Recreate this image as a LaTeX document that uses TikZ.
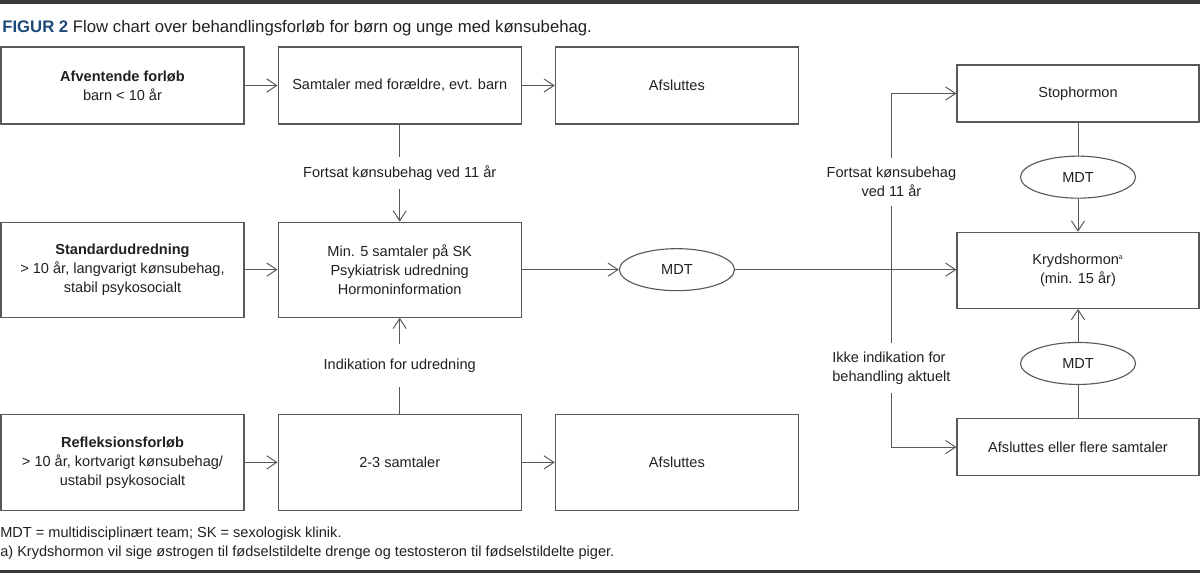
\documentclass[tikz,border=0pt]{standalone}
\usepackage{fontspec}
\setsansfont{Liberation Sans}
\usetikzlibrary{positioning,shapes.geometric,arrows.meta}
\definecolor{inkgray}{HTML}{231F20}
\definecolor{linegray}{HTML}{58595B}
\definecolor{rulegray}{HTML}{3A3A3A}
\definecolor{figblue}{HTML}{1E4A7A}

\begin{document}
\begin{tikzpicture}[
    x=0.025cm, y=-0.025cm,
    >={Straight Barb[length=0.25cm,width=0.33cm]},
    node distance=0.825cm,
    every node/.style={font=\sffamily\fontsize{10.35}{13.5}\selectfont, text=inkgray},
    stage/.style={
        draw=linegray,
        line width=0.8pt,
        minimum width=6.075cm,
        align=center,
        inner sep=0pt
    },
    board/.style={
        ellipse,
        draw=linegray,
        line width=0.8pt,
        minimum width=2.875cm,
        minimum height=1.05cm,
        inner sep=0pt
    },
    flow/.style={->, line width=0.7pt, linegray},
    link/.style={line width=0.7pt, linegray},
    cond/.style={
        fill=white,
        inner xsep=2pt,
        inner ysep=0.22cm,
        align=center
    }
]
\useasboundingbox (0,0) rectangle (1200,573);

% rules and caption
\fill[rulegray] (0,0) rectangle (1200,3.5);
\fill[rulegray] (0,569.5) rectangle (1200,573);
\node[anchor=base west, inner sep=0pt, font=\sffamily\fontsize{11.9}{14}\selectfont] (title) at (2,32)
    {\textcolor{figblue}{\bfseries FIGUR 2} Flow chart over behandlingsforløb for børn og unge med kønsubehag.};

% three entry rows
\node[stage, minimum height=1.925cm] (afv) at (122.5,85.5) {\textbf{Afventende forløb}\\barn < 10 år};
\node[stage, minimum height=1.925cm, right=of afv] (samtaler) {Samtaler med forældre, evt. barn};
\node[stage, minimum height=1.925cm, right=of samtaler] (slut1) {Afsluttes};

\node[stage, minimum height=2.375cm, below=2.425cm of afv] (std)
    {\textbf{Standardudredning}\\> 10 år, langvarigt kønsubehag,\\stabil psykosocialt};
\node[stage, minimum height=2.375cm, right=of std] (udred)
    {Min. 5 samtaler på SK\\Psykiatrisk udredning\\Hormoninformation};
\node[board] (mdta) at (slut1 |- udred) {MDT};

\node[stage, minimum height=2.4cm, below=2.4cm of std] (refl)
    {\textbf{Refleksionsforløb}\\> 10 år, kortvarigt kønsubehag/\\ustabil psykosocialt};
\node[stage, minimum height=2.4cm, right=of refl] (kort) {2-3 samtaler};
\node[stage, minimum height=2.4cm, right=of kort] (slut2) {Afsluttes};

% hormone column
\node[stage, minimum width=6.05cm, minimum height=1.425cm] (stop) at (1078,93.5) {Stophormon};
\node[board, below=of stop] (mdtb) {MDT};
\node[stage, minimum width=6.05cm, minimum height=1.9cm, below=of mdtb] (kryds)
    {Krydshormon\textsuperscript{\tiny a}\\(min. 15 år)};
\node[board, below=of kryds] (mdtc) {MDT};
\node[stage, minimum width=6.05cm, minimum height=1.425cm, below=of mdtc] (flere)
    {Afsluttes eller flere samtaler};
\coordinate[left=1.625cm of kryds.west] (split);

\draw[flow] (afv) -- (samtaler);
\draw[flow] (samtaler) -- (slut1);
\draw[flow] (samtaler) -- node[cond] {Fortsat kønsubehag ved 11 år} (udred);
\draw[flow] (std) -- (udred);
\draw[flow] (kort) -- node[cond, inner ysep=0.37cm] {Indikation for udredning} (udred);
\draw[flow] (refl) -- (kort);
\draw[flow] (kort) -- (slut2);
\draw[flow] (udred) -- (mdta);
\draw[flow] (mdta) -- (mdta -| kryds.west);

\draw[flow] (split) |- node[cond, pos=0.25] {Fortsat kønsubehag\\ved 11 år} (stop);
\draw[flow] (split) |- node[cond, pos=0.276, align=left] {Ikke indikation for\\behandling aktuelt} (flere);

\draw[link] (stop) -- (mdtb);
\draw[flow] (mdtb) -- (kryds);
\draw[link] (flere) -- (mdtc);
\draw[flow] (mdtc) -- (kryds);

% footnotes
\node[anchor=base west, inner sep=0pt] (notea) at (0,537) {MDT = multidisciplinært team; SK = sexologisk klinik.};
\node[anchor=base west, inner sep=0pt] (noteb) at (0,556)
    {a) Krydshormon vil sige østrogen til fødselstildelte drenge og testosteron til fødselstildelte piger.};

\end{tikzpicture}
\end{document}
